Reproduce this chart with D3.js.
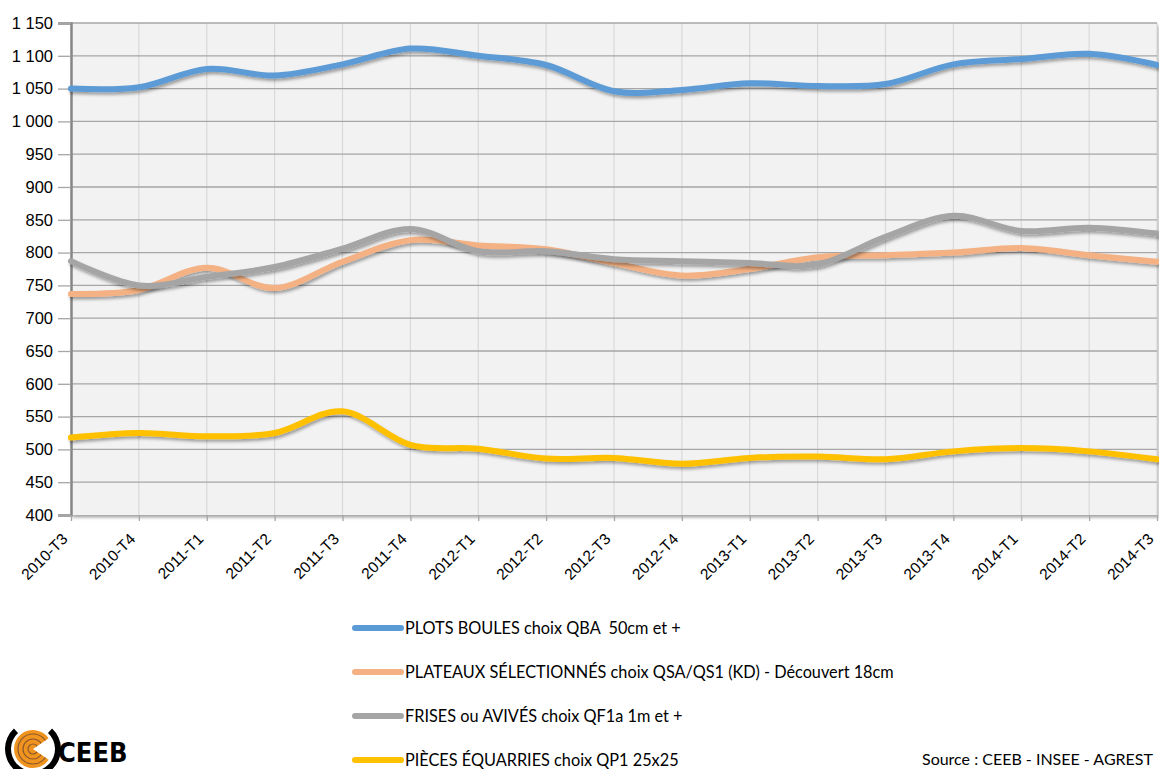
<!DOCTYPE html>
<html>
<head>
    <meta charset="utf-8">
    <title>Prix des sciages de chêne</title>
    <script src="https://d3js.org/d3.v7.min.js"></script>
    <style>
        body { margin: 0; background: #fff; }
        svg { display: block; font-family: Lato, 'Open Sans', sans-serif; }
        #legend text { white-space: pre; }
    </style>
</head>
<body>
    <div id="chart"></div>
    <script>
        const quarters = ['2010-T3', '2010-T4', '2011-T1', '2011-T2', '2011-T3', '2011-T4', '2012-T1', '2012-T2',
            '2012-T3', '2012-T4', '2013-T1', '2013-T2', '2013-T3', '2013-T4', '2014-T1', '2014-T2', '2014-T3']

        const plotsBoules = [1050, 1052, 1080, 1070, 1087, 1111, 1100, 1086, 1046, 1048, 1058, 1054, 1057, 1087, 1095, 1103, 1086]
        const plateaux = [737, 743, 777, 746, 786, 819, 811, 805, 784, 765, 775, 793, 796, 800, 807, 796, 786]
        const frises = [787, 750, 763, 778, 806, 836, 802, 802, 790, 787, 784, 782, 824, 856, 833, 838, 829]
        const pieces = [518, 525, 520, 525, 558, 507, 501, 486, 487, 478, 487, 489, 485, 497, 502, 497, 485]

        const seriesNames = ['PLOTS BOULES choix QBA  50cm et +',
            'PLATEAUX SÉLECTIONNÉS choix QSA/QS1 (KD) - Découvert 18cm',
            'FRISES ou AVIVÉS choix QF1a 1m et +',
            'PIÈCES ÉQUARRIES choix QP1 25x25']
        const seriesColors = ['#5B9BD5', '#F4B183', '#A5A5A5', '#FFC000']
        const yTicks = d3.range(400, 1151, 50)

        const w = 1159
        const h = 769
        const plot = { left: 71, right: 1157, top: 23, bottom: 515 }

        const series = [plotsBoules, plateaux, frises, pieces].map((values, i) => {
            return { name: seriesNames[i], color: seriesColors[i], values: values }
        })

        const svg = d3.select('#chart')
            .append('svg')
            .attr('width', w)
            .attr('height', h)

        const defs = svg.append('defs')
        const shadow = defs.append('filter')
            .attr('id', 'shadow')
            .attr('x', '-5%').attr('y', '-20%')
            .attr('width', '110%').attr('height', '140%')
        shadow.append('feDropShadow')
            .attr('dx', 1.5).attr('dy', 2.5)
            .attr('stdDeviation', 1.5)
            .attr('flood-color', '#000')
            .attr('flood-opacity', 0.35)

        const x = d3.scalePoint()
            .domain(quarters)
            .range([plot.left, plot.right])

        const y = d3.scaleLinear()
            .domain([400, 1150])
            .range([plot.bottom, plot.top])

        const fr = d3.formatLocale({ decimal: ',', thousands: ' ', grouping: [3], currency: ['', ''] })

        // plot area
        svg.append('rect')
            .attr('x', plot.left)
            .attr('y', plot.top)
            .attr('width', plot.right - plot.left)
            .attr('height', plot.bottom - plot.top)
            .attr('fill', '#F2F2F2')
            .attr('filter', 'url(#shadow)')

        // vertical gridlines
        svg.append('g')
            .selectAll('line')
            .data(quarters.slice(1))
            .enter()
            .append('line')
            .attr('x1', d => x(d)).attr('x2', d => x(d))
            .attr('y1', plot.top).attr('y2', plot.bottom)
            .attr('stroke', '#D9D9D9')
            .attr('stroke-width', 1.2)

        // horizontal gridlines
        svg.append('g')
            .selectAll('line')
            .data(yTicks.slice(1))
            .enter()
            .append('line')
            .attr('x1', plot.left).attr('x2', plot.right)
            .attr('y1', d => y(d)).attr('y2', d => y(d))
            .attr('stroke', '#A6A6A6')
            .attr('stroke-width', 1.3)

        // y axis
        const yAxis = svg.append('g')
            .attr('transform', `translate(${plot.left},0)`)
            .call(d3.axisLeft(y).tickValues(yTicks).tickSize(13).tickPadding(5).tickFormat(fr.format(',')))
        yAxis.select('.domain').attr('stroke', '#868686').attr('stroke-width', 2.5)
        yAxis.selectAll('.tick line').attr('stroke', '#A6A6A6').attr('stroke-width', 1.3)
        yAxis.selectAll('.tick text').attr('fill', '#000').style('font-size', '16.5px')

        // x axis
        const xAxis = svg.append('g')
            .attr('transform', `translate(0,${plot.bottom})`)
            .call(d3.axisBottom(x).tickSize(6).tickSizeOuter(0))
        xAxis.select('.domain').attr('stroke', '#868686').attr('stroke-width', 2.5)
            .attr('filter', 'url(#shadow)')
        xAxis.selectAll('.tick line').attr('stroke', '#A6A6A6').attr('stroke-width', 1.3)
        xAxis.selectAll('.tick text')
            .attr('fill', '#000')
            .style('font-size', '15.5px')
            .attr('text-anchor', 'end')
            .attr('dy', null)
            .attr('y', 0)
            .attr('transform', 'translate(-3,25) rotate(-45)')

        // lines
        const line = d3.line()
            .x((d, i) => x(quarters[i]))
            .y(d => y(d))
            .curve(d3.curveCatmullRom.alpha(0))

        svg.append('g')
            .selectAll('path')
            .data(series)
            .enter()
            .append('path')
            .attr('d', d => line(d.values))
            .attr('fill', 'none')
            .attr('stroke', d => d.color)
            .attr('stroke-width', 6)
            .attr('stroke-linecap', 'round')
            .attr('stroke-linejoin', 'round')
            .attr('filter', 'url(#shadow)')

        // legend
        const legend = svg.append('g')
            .attr('id', 'legend')
            .attr('transform', 'translate(355,628)')

        legend.selectAll('line')
            .data(series)
            .enter()
            .append('line')
            .attr('x1', 0).attr('x2', 46)
            .attr('y1', (d, i) => 44 * i).attr('y2', (d, i) => 44 * i)
            .attr('stroke', d => d.color)
            .attr('stroke-width', 6)
            .attr('stroke-linecap', 'round')

        legend.selectAll('text')
            .data(series)
            .enter()
            .append('text')
            .attr('x', 50)
            .attr('y', (d, i) => 44 * i + 6)
            .style('font-size', '16.3px')
            .text(d => d.name)

        // source
        svg.append('text')
            .attr('x', 922)
            .attr('y', 765)
            .style('font-size', '16px')
            .text('Source : CEEB - INSEE - AGREST')

        // logo
        const wedge = d3.arc().innerRadius(0).outerRadius(19).startAngle(Math.PI / 2 + 0.6).endAngle(2.5 * Math.PI - 0.6)
        defs.append('clipPath').attr('id', 'logoClip')
            .append('path')
            .attr('d', wedge())
        const logo = svg.append('g').attr('transform', 'translate(33,749)')
        logo.append('path')
            .attr('d', d3.arc().innerRadius(22).outerRadius(28).startAngle(0.75).endAngle(2 * Math.PI - 0.75)())
            .attr('fill', '#000')
        logo.append('path')
            .attr('d', wedge())
            .attr('fill', '#F0931F')
        logo.selectAll('circle')
            .data([15, 10, 5])
            .enter()
            .append('circle')
            .attr('r', d => d)
            .attr('fill', 'none')
            .attr('stroke', '#8B5A2B')
            .attr('stroke-width', 1.2)
            .attr('clip-path', 'url(#logoClip)')
        svg.append('text')
            .attr('x', 58)
            .attr('y', 762)
            .style('font-size', '27px')
            .style('font-weight', 'bold')
            .style('font-family', "'DejaVu Sans Condensed', 'Liberation Sans Narrow', sans-serif")
            .text('CEEB')
    </script>
</body>
</html>
